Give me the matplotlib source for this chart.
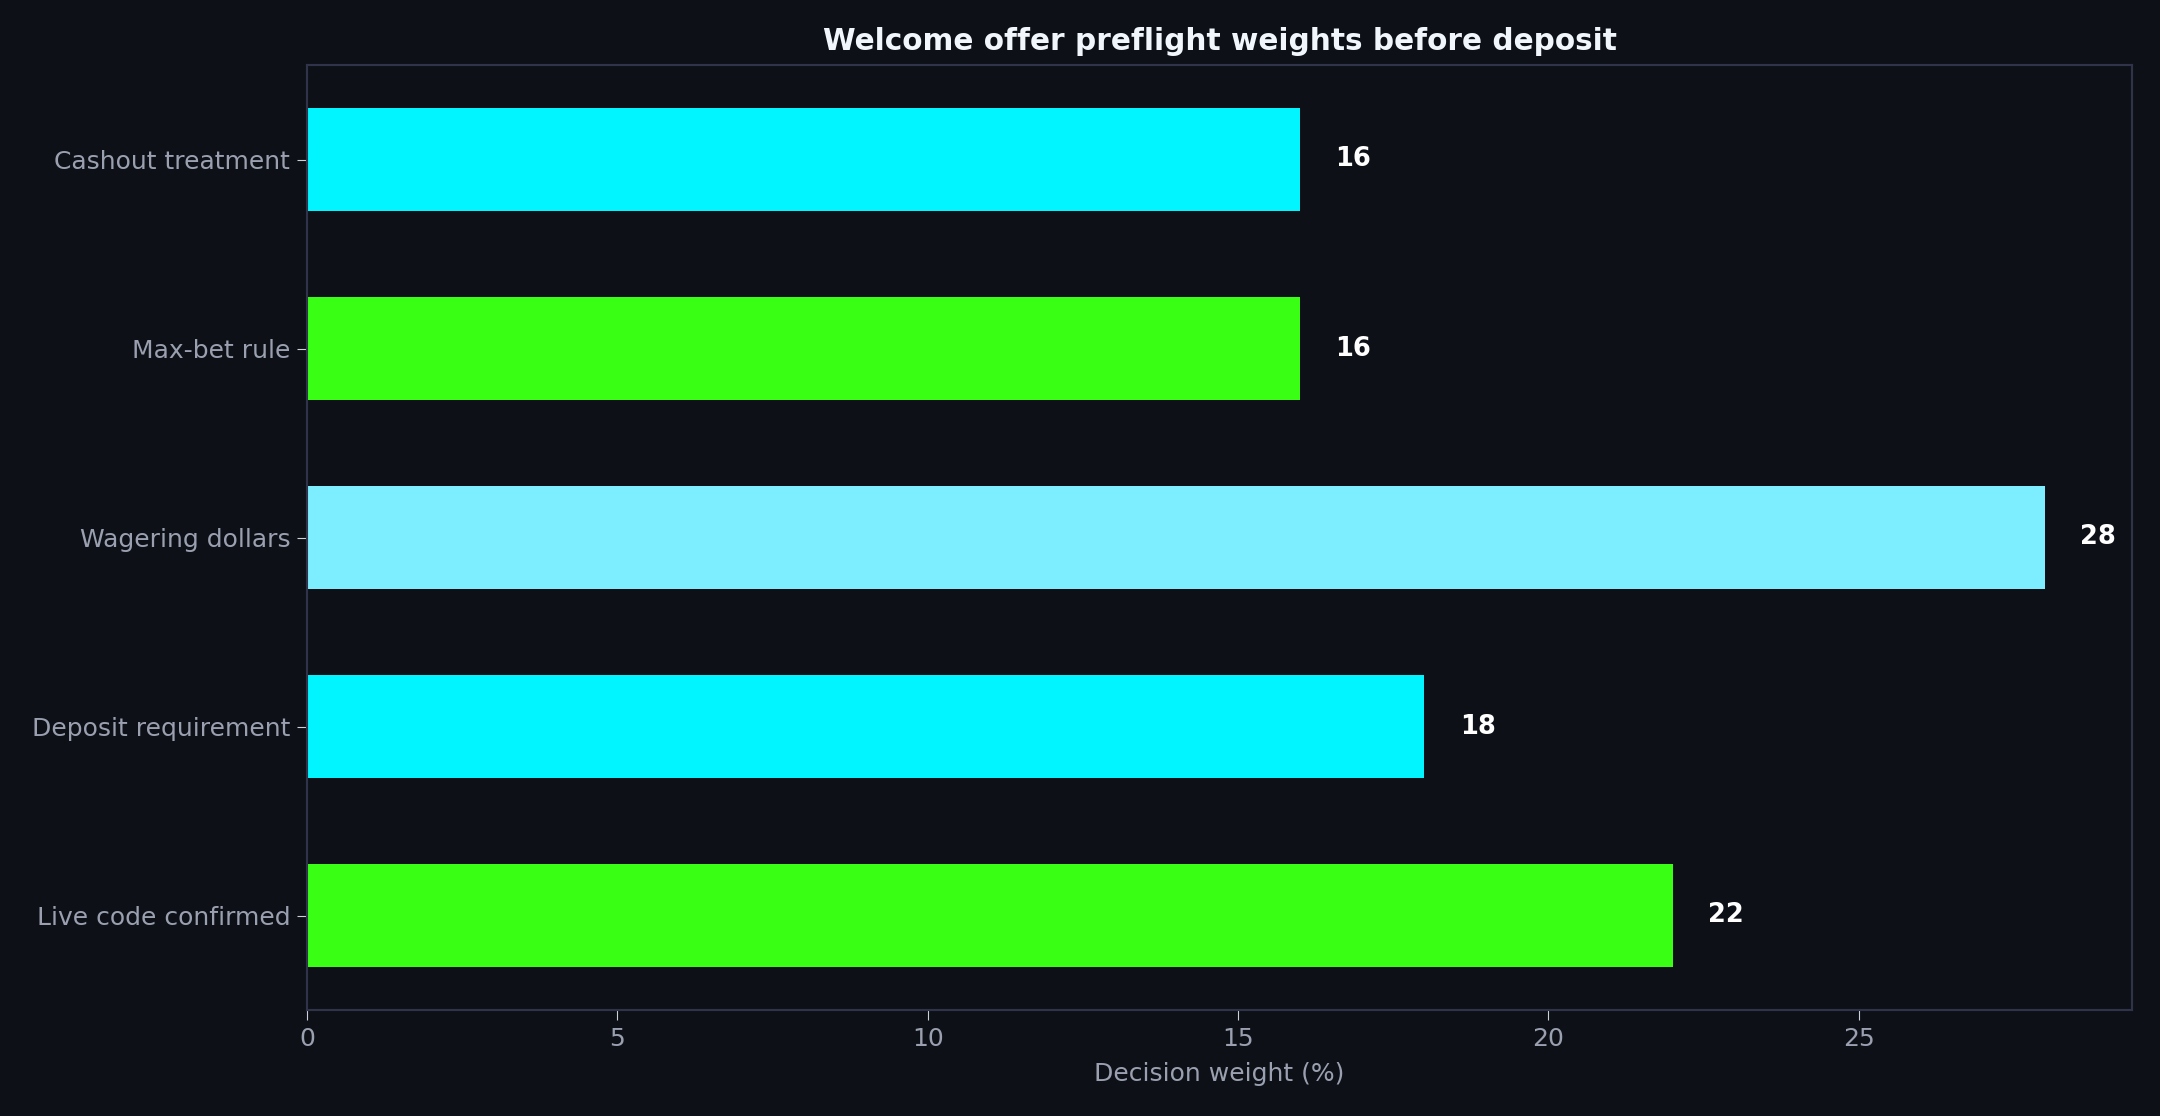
import matplotlib
matplotlib.use("Agg")
import matplotlib.pyplot as plt

categories = ["Live code confirmed", "Deposit requirement", "Wagering dollars", "Max-bet rule", "Cashout treatment"]
values = [22, 18, 28, 16, 16]
colors = ["#39FF14", "#00F5FF", "#7DEEFF", "#39FF14", "#00F5FF"]
title = "Welcome offer preflight weights before deposit"
xlabel = "Decision weight (%)"

BG = "#0d1117"
fig = plt.figure(figsize=(21.6, 11.16), dpi=100, facecolor=BG)
ax = fig.add_axes([307/2160, 1 - 1010/1116, (2132-307)/2160, (1010-65)/1116])
ax.set_facecolor(BG)
ypos = list(range(len(categories)))
ax.barh(ypos, values, height=0.55, color=colors, zorder=2)
for y, v in zip(ypos, values):
    ax.text(v + 0.57, y, f"{v}", va="center", ha="left", color="white",
            fontsize=18.5, fontweight="bold")
ax.set_yticks(ypos)
ax.set_yticklabels(categories)
ax.set_xlim(0, max(values) * 1.05)
ax.set_ylim(-0.5, len(categories) - 0.5)
ax.set_xticks([0, 5, 10, 15, 20, 25])
ax.tick_params(colors="#c9d1d9", labelcolor="#9aa0b0", labelsize=18, length=7, pad=5)
for s in ax.spines.values():
    s.set_color("#30334a")
    s.set_linewidth(1.5)
ax.set_xlabel(xlabel, color="#9aa0b0", fontsize=18, labelpad=8)
ax.set_title(title, color="#f0f6fc", fontsize=21.3, fontweight="bold", pad=11)
fig.savefig("out.png", dpi=100, facecolor=BG)
